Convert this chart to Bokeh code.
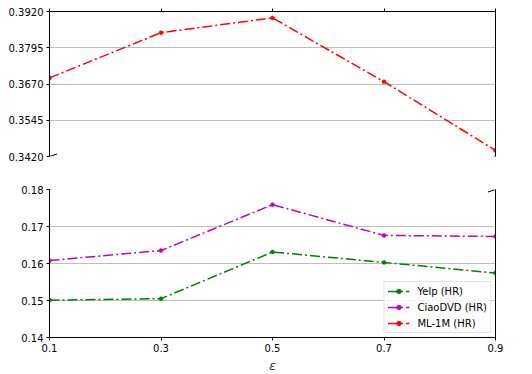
from bokeh.plotting import figure
from bokeh.layouts import column
from bokeh.models import (FixedTicker, LinearAxis, Legend, LegendItem, Arrow, Range1d)
from bokeh.embed import file_html
from bokeh.resources import INLINE

eps = [0.1, 0.3, 0.5, 0.7, 0.9]
yelp_hr = [0.1501, 0.1505, 0.1631, 0.1603, 0.1574]
ciao_hr = [0.1608, 0.1635, 0.1759, 0.1676, 0.1673]
ml1m_hr = [0.3691, 0.3847, 0.3898, 0.3678, 0.3441]

series = [
    ("Yelp (HR)", yelp_hr, "#008000"),
    ("CiaoDVD (HR)", ciao_hr, "#bf00bf"),
    ("ML-1M (HR)", ml1m_hr, "#ff0000"),
]

top_ticks = [0.3420, 0.3545, 0.3670, 0.3795, 0.3920]
bot_ticks = [0.14, 0.15, 0.16, 0.17, 0.18]
x_ticks = [0.1, 0.3, 0.5, 0.7, 0.9]

FONT = "DejaVu Sans"
FW = 446
FH_TOP = 145
FH_BOT = 148
X0, X1 = 0.1, 0.9


def style_axis(ax, ticks, fmt_labels=None):
    ax.ticker = FixedTicker(ticks=ticks)
    ax.minor_tick_line_color = None
    ax.major_tick_in = 0
    ax.major_tick_out = 3
    ax.major_tick_line_color = "black"
    ax.axis_line_color = "black"
    ax.axis_line_width = 1
    ax.major_label_standoff = 3
    ax.major_label_text_font = FONT
    ax.major_label_text_font_size = "10px"
    ax.major_label_text_color = "black"
    if fmt_labels is not None:
        ax.major_label_overrides = fmt_labels


def spine_axis(minor=None):
    ax = LinearAxis(ticker=FixedTicker(ticks=[], minor_ticks=minor or []))
    ax.axis_line_color = "black"
    ax.major_tick_line_color = None
    ax.major_tick_out = 0
    ax.major_label_standoff = 0
    if minor:
        ax.minor_tick_line_color = "black"
        ax.minor_tick_in = 0
        ax.minor_tick_out = 3
    else:
        ax.minor_tick_line_color = None
        ax.minor_tick_out = 0
    return ax


def make_fig(ylo, yhi, fh, top, bottom):
    p = figure(frame_width=FW, frame_height=fh, output_backend="svg",
               toolbar_location=None, x_range=Range1d(X0, X1),
               y_range=Range1d(ylo, yhi), x_axis_location=None,
               y_axis_location="left",
               min_border_left=49, min_border_right=22,
               min_border_top=top, min_border_bottom=bottom)
    p.outline_line_color = None
    p.xgrid.grid_line_color = None
    p.ygrid.grid_line_color = "#bdbdbd"
    p.ygrid.grid_line_width = 1
    p.background_fill_color = "white"
    return p


def add_series(p):
    out = []
    for name, ys, col in series:
        ln = p.line(eps, ys, line_color=col, line_width=1.5, line_dash="10 3 2 3")
        sc = p.scatter(eps, ys, size=4, marker="circle", fill_color=col, line_color=col,
                       line_width=0.5)
        out.append((name, ln, sc))
    return out


def break_marks(p, ylo, yhi, fh, at_bottom):
    dx = 7.5 * (X1 - X0) / FW
    dy = 2.5 * (yhi - ylo) / fh
    yb = ylo if at_bottom else yhi
    for xb in (X0, X1):
        p.add_layout(Arrow(end=None, x_start=xb - dx, y_start=yb - dy,
                           x_end=xb + dx, y_end=yb + dy,
                           line_color="black", line_width=1))


# top panel
p1 = make_fig(top_ticks[0], top_ticks[-1], FH_TOP, 11, 16)
style_axis(p1.yaxis[0], top_ticks, {t: f"{t:.4f}" for t in top_ticks})
p1.ygrid.ticker = FixedTicker(ticks=top_ticks)
p1.add_layout(spine_axis(x_ticks), "above")
p1.add_layout(spine_axis(), "right")
add_series(p1)
break_marks(p1, top_ticks[0], top_ticks[-1], FH_TOP, True)

# bottom panel
p2 = make_fig(bot_ticks[0], bot_ticks[-1], FH_BOT, 17, 37)
style_axis(p2.yaxis[0], bot_ticks, {t: f"{t:.2f}" for t in bot_ticks})
p2.ygrid.ticker = FixedTicker(ticks=bot_ticks)
ax_b = LinearAxis()
style_axis(ax_b, x_ticks, {t: f"{t:.1f}" for t in x_ticks})
ax_b.axis_label = "ε"
ax_b.axis_label_text_font = FONT
ax_b.axis_label_text_font_style = "italic"
ax_b.axis_label_text_font_size = "13px"
ax_b.axis_label_standoff = 3
p2.add_layout(ax_b, "below")
p2.add_layout(spine_axis(), "right")
items = add_series(p2)
break_marks(p2, bot_ticks[0], bot_ticks[-1], FH_BOT, False)

legend = Legend(items=[LegendItem(label=n, renderers=[ln, sc]) for n, ln, sc in items],
                location="bottom_right")
legend.label_text_font = FONT
legend.label_text_font_size = "10px"
legend.label_text_color = "black"
legend.glyph_width = 22
legend.glyph_height = 12
legend.label_height = 12
legend.label_standoff = 8
legend.spacing = 4
legend.padding = 3
legend.margin = 4
legend.border_line_color = "#cccccc"
legend.border_line_width = 1
legend.background_fill_alpha = 0.8
p2.add_layout(legend, "center")

layout = column(p1, p2, spacing=0)
open("out.html", "w").write(file_html(layout, INLINE))
